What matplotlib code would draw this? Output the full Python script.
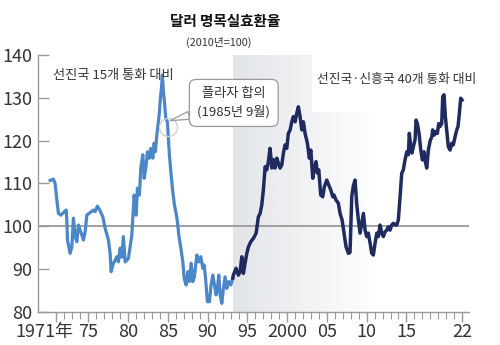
import numpy as np
import matplotlib
matplotlib.use("Agg")
import matplotlib.pyplot as plt
import matplotlib.transforms as mtransforms
from matplotlib.colors import to_rgb

plt.rcParams['font.family'] = ['Liberation Sans Narrow', 'Noto Sans CJK KR', 'DejaVu Sans']

# 선진국 15개 통화 대비 (1971~1993)
light_years = [1970.23, 1970.64, 1970.85, 1971.07, 1971.27, 1971.57, 1971.90, 1972.24, 1972.32,
               1972.40, 1972.74, 1972.95, 1973.15, 1973.37, 1973.58, 1973.78, 1973.99, 1974.21,
               1974.41, 1974.62, 1974.84, 1975.25, 1975.67, 1975.88, 1976.17, 1976.51, 1976.85,
               1977.14, 1977.55, 1977.76, 1977.89, 1978.10, 1978.39, 1978.61, 1978.81, 1979.02,
               1979.23, 1979.43, 1979.65, 1980.06, 1980.49, 1980.78, 1981.03, 1981.19, 1981.44,
               1981.62, 1981.87, 1982.04, 1982.29, 1982.45, 1982.70, 1982.88, 1983.13, 1983.29,
               1983.45, 1983.63, 1983.83, 1983.96, 1984.08, 1984.21, 1984.33, 1984.46, 1984.59,
               1984.76, 1984.96, 1985.21, 1985.39, 1985.59, 1985.84, 1986.06, 1986.22, 1986.39,
               1986.65, 1986.90, 1987.06, 1987.31, 1987.53, 1987.73, 1987.94, 1988.15, 1988.35,
               1988.66, 1988.91, 1989.16, 1989.41, 1989.57, 1989.74, 1989.99, 1990.24, 1990.45,
               1990.67, 1990.87, 1991.08, 1991.24, 1991.42, 1991.58, 1991.80, 1992.00, 1992.21,
               1992.42, 1992.68, 1992.93, 1993.18]
light_vals = [110.7, 111.0, 110.0, 106.1, 103.0, 102.6, 103.2, 103.8, 101.5,
              96.8, 93.7, 95.2, 101.9, 97.6, 96.4, 100.3, 99.1, 98.0,
              96.8, 98.7, 102.6, 103.2, 103.8, 103.4, 104.7, 103.6, 102.2,
              99.5, 96.8, 93.7, 89.4, 91.0, 92.1, 92.9, 91.7, 94.9,
              92.8, 97.6, 91.7, 92.5, 98.0, 107.3, 102.6, 108.9, 107.3,
              113.6, 116.7, 111.2, 114.3, 117.4, 115.9, 118.2, 115.9, 119.4,
              117.4, 121.3, 124.4, 126.7, 129.9, 132.2, 135.3, 131.4, 129.1,
              125.2, 124.4, 116.7, 112.8, 108.9, 105.0, 103.0, 101.1, 98.0,
              94.9, 91.7, 87.9, 86.3, 89.4, 87.1, 91.4, 87.1, 88.2,
              93.3, 91.7, 92.9, 90.2, 91.0, 88.2, 82.4, 82.4, 86.3,
              88.6, 86.3, 84.0, 85.5, 88.6, 84.0, 82.0, 85.5, 88.2,
              85.5, 87.1, 86.3, 87.9]

# 선진국·신흥국 40개 통화 대비 (1993~2022)
dark_years = [1993.18, 1993.25, 1993.59, 1993.88, 1994.10, 1994.31, 1994.51, 1994.72, 1994.94,
              1995.14, 1995.44, 1995.77, 1996.11, 1996.39, 1996.61, 1996.82, 1997.02, 1997.24,
              1997.45, 1997.65, 1997.86, 1998.08, 1998.28, 1998.49, 1998.71, 1998.91, 1999.12,
              1999.33, 1999.54, 1999.75, 1999.96, 2000.16, 2000.38, 2000.59, 2000.79, 2001.01,
              2001.22, 2001.42, 2001.63, 2001.85, 2002.05, 2002.26, 2002.55, 2002.80, 2002.98,
              2003.23, 2003.39, 2003.64, 2003.81, 2003.98, 2004.23, 2004.48, 2004.69, 2004.99,
              2005.24, 2005.49, 2005.74, 2005.90, 2006.16, 2006.44, 2006.66, 2006.91, 2007.16,
              2007.41, 2007.70, 2007.91, 2008.13, 2008.33, 2008.54, 2008.76, 2008.96, 2009.17,
              2009.38, 2009.59, 2009.80, 2010.01, 2010.21, 2010.43, 2010.64, 2010.84, 2011.06,
              2011.27, 2011.47, 2011.68, 2011.90, 2012.10, 2012.31, 2012.53, 2012.73, 2012.94,
              2013.15, 2013.35, 2013.57, 2013.78, 2013.98, 2014.20, 2014.41, 2014.61, 2014.82,
              2015.04, 2015.24, 2015.36, 2015.54, 2015.70, 2015.87, 2016.08, 2016.21, 2016.37,
              2016.58, 2016.80, 2017.00, 2017.21, 2017.37, 2017.55, 2017.75, 2017.96, 2018.18,
              2018.30, 2018.50, 2018.72, 2018.88, 2019.06, 2019.22, 2019.43, 2019.56, 2019.72,
              2019.89, 2020.06, 2020.26, 2020.48, 2020.69, 2020.89, 2021.11, 2021.32, 2021.48,
              2021.65, 2021.82, 2021.98]
dark_vals = [87.9, 88.6, 90.2, 88.6, 89.4, 92.9, 89.0, 91.4, 93.7,
             95.2, 96.4, 97.2, 98.4, 102.2, 103.0, 105.0, 108.5, 113.9,
             113.2, 115.1, 118.2, 113.6, 115.6, 113.6, 115.9, 114.7, 113.6,
             114.3, 117.1, 119.0, 118.2, 121.7, 122.5, 124.4, 125.6, 124.4,
             126.4, 127.9, 125.6, 122.5, 124.4, 121.7, 119.4, 115.9, 117.8,
             111.2, 113.2, 115.1, 112.4, 113.2, 107.3, 106.9, 109.3, 110.8,
             109.6, 108.5, 106.9, 107.3, 106.1, 105.4, 103.0, 101.5, 98.4,
             95.2, 93.7, 93.9, 107.0, 109.5, 110.8, 105.0, 101.5, 98.4,
             100.7, 103.0, 99.1, 97.6, 98.4, 96.1, 93.7, 93.3, 96.1,
             98.4, 97.6, 100.3, 98.4, 97.6, 98.7, 99.1, 99.9, 99.1,
             100.3, 100.7, 100.3, 100.3, 101.5, 106.9, 112.4, 113.2, 115.5,
             117.4, 116.7, 121.7, 118.6, 117.1, 118.6, 120.2, 124.8, 124.0,
             121.7, 117.8, 115.5, 117.4, 115.1, 113.6, 117.8, 119.8, 120.9,
             122.5, 121.3, 122.1, 121.7, 124.0, 123.3, 124.0, 130.3, 130.7,
             125.6, 122.5, 118.6, 117.8, 119.4, 119.0, 120.9, 122.5, 123.3,
             126.4, 129.9, 129.5]

tick_years = [1971, 1975, 1980, 1985, 1990, 1995, 2000, 2005, 2010, 2015, 2022]
tick_labels = ['1971年', '75', '80', '85', '90', '95', '2000', '05', '10', '15', '22']
y_ticks = [80, 90, 100, 110, 120, 130, 140]

shade_start = 1993.2
plaza_year = 1985.0

light_color = '#4a86c8'
dark_color = '#1f2b5e'
axis_grey = '#9a9a9a'
text_color = '#333333'

fig = plt.figure(figsize=(5, 3.45), dpi=100)
ax = fig.add_axes([0.076, 0.0957, 0.862, 0.745])
ax.set_xlim(1968.7, 2022.86)
ax.set_ylim(80, 140)

# 회색 그라데이션 배경 (1993년 이후)
shade_rgb = to_rgb('#dfe2e6')
grad = np.zeros((2, 200, 4))
grad[..., :3] = shade_rgb
xs = np.linspace(shade_start, 2022.86, 200)
grad[..., 3] = np.clip(1 - (xs - shade_start) / 18.0, 0, 1) * 0.9
ax.imshow(grad, extent=[shade_start, 2022.86, 80, 140], aspect='auto', zorder=0,
          interpolation='bilinear')
# 오른쪽 라벨 뒤 흰 영역
ax.add_patch(plt.Rectangle((0.636, 0.778), 0.364, 0.222, transform=ax.transAxes,
                           facecolor='white', edgecolor='none', zorder=0.5))

ax.axhline(100, color=axis_grey, lw=1.3, zorder=1)

ax.plot(light_years, light_vals, color=light_color, lw=2.3, zorder=3, solid_joinstyle='round')
ax.plot(dark_years, dark_vals, color=dark_color, lw=2.5, zorder=3, solid_joinstyle='round')

for s in ['top', 'right']:
    ax.spines[s].set_visible(False)
for s in ['left', 'bottom']:
    ax.spines[s].set_color(axis_grey)
    ax.spines[s].set_linewidth(1.0)

ax.set_yticks(y_ticks)
ax.set_yticklabels([str(v) for v in y_ticks])
ax.tick_params(axis='y', direction='in', length=8, width=1, color=axis_grey,
               labelsize=13, labelcolor=text_color, pad=4)

ax.set_xticks(tick_years)
ax.set_xticklabels(tick_labels)
ax.set_xticks(np.arange(1971, 2023), minor=True)
ax.tick_params(axis='x', which='major', direction='out', length=7, width=1, color=axis_grey,
               labelsize=13, labelcolor=text_color, pad=1)
ax.tick_params(axis='x', which='minor', direction='out', length=5, width=0.8, color=axis_grey)
first = ax.get_xticklabels()[0]
first.set_transform(first.get_transform() + mtransforms.ScaledTranslation(-0.12, 0, fig.dpi_scale_trans))

# 제목
fig.text(0.45, 0.94, '달러 명목실효환율', ha='center', va='center', fontsize=10.5,
         fontweight='bold', color='#111111', family=['Noto Sans CJK KR'])
fig.text(0.438, 0.878, '(2010년=100)', ha='center', va='center', fontsize=7.8,
         color=text_color, family=['Noto Sans CJK KR'])

ax.text(1970.6, 135.3, '선진국 15개 통화 대비', ha='left', va='center', fontsize=9.5,
        color=text_color, family=['Noto Sans CJK KR'])
ax.text(2003.8, 134.3, '선진국·신흥국 40개 통화 대비', ha='left', va='center', fontsize=9.2,
        color=text_color, family=['Noto Sans CJK KR'])

# 플라자 합의 말풍선
plaza_val = np.interp(plaza_year, light_years, light_vals)
ax.plot([plaza_year], [plaza_val], marker='o', ms=13, mfc='none', mec='#d0d0d0', mew=1, zorder=4)
ax.annotate('플라자 합의\n(1985년 9월)', xy=(plaza_year + 0.3, plaza_val + 1.5),
            xytext=(1993.3, 128.8), ha='center', va='center', fontsize=9.5,
            color=text_color, family=['Noto Sans CJK KR'], linespacing=1.45, zorder=5,
            bbox=dict(boxstyle='round,pad=0.6,rounding_size=0.5', fc='white', ec=axis_grey, lw=0.9),
            arrowprops=dict(arrowstyle='wedge,tail_width=0.6,shrink_factor=0.5', fc='white',
                            ec=axis_grey, lw=0.9, shrinkA=0, shrinkB=0))

fig.savefig('out.png', dpi=100)
